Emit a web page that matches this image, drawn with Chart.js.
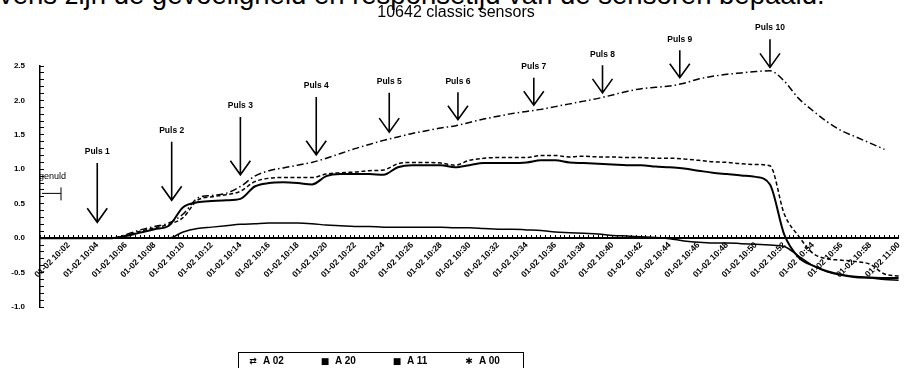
<!DOCTYPE html>
<html>
<head>
<meta charset="utf-8">
<title>10642 classic sensors</title>
<script src="https://cdn.jsdelivr.net/npm/chart.js@4.4.1/dist/chart.umd.min.js"></script>
<style>
  html, body { margin: 0; padding: 0; background: #fff; }
  #wrap { position: relative; width: 912px; height: 375px; overflow: hidden; font-family: "Liberation Sans", Arial, sans-serif; color: #000; }
  #cut { position: absolute; left: -1px; top: -19px; font-size: 27.5px; line-height: 27.5px; white-space: nowrap; }
  #chart { position: absolute; left: 0; top: 0; }
  #legend { position: absolute; left: 238px; top: 352px; width: 284px; height: 15px; border: 1px solid #000; border-bottom: none; font-size: 10px; font-weight: bold; line-height: 15px; white-space: nowrap; }
  #legend span.item { display: inline-block; width: 72px; }
  #legend span.sym { display: inline-block; width: 20px; text-align: center; margin-left: 4px; font-family: "DejaVu Sans", sans-serif; font-size: 9px; }
</style>
</head>
<body>
<div id="wrap">
  <div id="cut">vens zijn de gevoeligheid en responsetijd van de sensoren bepaald.</div>
  <canvas id="chart" width="912" height="375"></canvas>
  <div id="legend"></div>
</div>
<script>
// sample times, minutes after 10:00
var sampleMinutes = [0, 1, 2, 3, 4, 5, 6, 7, 8, 9, 10, 11, 12, 13, 14, 15, 16, 17, 18, 19, 20,
    21, 22, 23, 24, 25, 26, 27, 28, 29, 30, 31, 32, 33, 34, 35, 36, 37, 38, 39, 40,
    41, 42, 43, 44, 45, 46, 47, 48, 49, 50, 51, 52, 53, 54, 55, 56, 57, 58, 59, 60];

var timeLabels = ['01-02 10:02', '01-02 10:04', '01-02 10:06', '01-02 10:08', '01-02 10:10',
    '01-02 10:12', '01-02 10:14', '01-02 10:16', '01-02 10:18', '01-02 10:20',
    '01-02 10:22', '01-02 10:24', '01-02 10:26', '01-02 10:28', '01-02 10:30',
    '01-02 10:32', '01-02 10:34', '01-02 10:36', '01-02 10:38', '01-02 10:40',
    '01-02 10:42', '01-02 10:44', '01-02 10:46', '01-02 10:48', '01-02 10:50',
    '01-02 10:52', '01-02 10:54', '01-02 10:56', '01-02 10:58', '01-02 11:00'];

var seriesNames = ['A 02', 'A 20', 'A 11', 'A 00'];
var legendSymbols = ['\u21C4', '\u25A0', '\u25A0', '\u2731'];

var a02 = [0, 0, 0, 0, 0, 0, 0.05, 0.12, 0.17, 0.22, 0.35, 0.58, 0.62, 0.65, 0.75, 0.90, 0.98, 1.02, 1.06, 1.10, 1.16,
    1.23, 1.30, 1.36, 1.42, 1.47, 1.52, 1.56, 1.60, 1.63, 1.68, 1.73, 1.77, 1.81, 1.84, 1.87, 1.91, 1.95, 1.99, 2.03, 2.08,
    2.13, 2.17, 2.19, 2.21, 2.25, 2.31, 2.35, 2.38, 2.40, 2.42, 2.43, 2.28, 2.03, 1.85, 1.69, 1.56, 1.47, 1.38, 1.29, null];

var a20 = [0, 0, 0, 0, 0, 0, 0.04, 0.10, 0.15, 0.20, 0.30, 0.55, 0.60, 0.63, 0.68, 0.82, 0.87, 0.88, 0.88, 0.88, 0.93,
    0.95, 0.96, 0.98, 0.99, 1.08, 1.10, 1.10, 1.09, 1.06, 1.13, 1.16, 1.17, 1.17, 1.17, 1.20, 1.20, 1.18, 1.19, 1.18, 1.18,
    1.17, 1.17, 1.16, 1.16, 1.15, 1.13, 1.11, 1.10, 1.08, 1.07, 1.05, 0.35, 0.03, -0.22, -0.30, -0.32, -0.34, -0.38, -0.52, -0.55];

var a11 = [0, 0, 0, 0, 0, 0, 0.03, 0.08, 0.13, 0.18, 0.45, 0.52, 0.54, 0.55, 0.57, 0.75, 0.80, 0.81, 0.80, 0.78, 0.90,
    0.93, 0.93, 0.93, 0.92, 1.03, 1.06, 1.06, 1.06, 1.03, 1.06, 1.09, 1.09, 1.09, 1.10, 1.13, 1.13, 1.10, 1.09, 1.08, 1.07,
    1.06, 1.06, 1.04, 1.03, 1.01, 0.98, 0.95, 0.93, 0.91, 0.89, 0.78, 0.05, -0.28, -0.40, -0.48, -0.53, -0.56, -0.57, -0.58, -0.58];

var a00 = [0, 0, 0, 0, 0, 0, 0, 0, 0, 0, 0.09, 0.14, 0.16, 0.18, 0.20, 0.21, 0.22, 0.22, 0.22, 0.21, 0.19,
    0.18, 0.17, 0.17, 0.16, 0.16, 0.16, 0.16, 0.16, 0.15, 0.15, 0.14, 0.13, 0.13, 0.12, 0.11, 0.09, 0.08, 0.07, 0.06, 0.04,
    0.03, 0.02, 0.01, -0.01, -0.04, -0.06, -0.07, -0.07, -0.08, -0.09, -0.10, -0.12, -0.26, -0.40, -0.49, -0.54, -0.57, -0.58, -0.60, -0.61];

// gas pulses (Puls 1..10): time in minutes, arrow tip and arrow top in sensor units
var pulseMinutes = [4.0, 9.2, 14.0, 19.3, 24.4, 29.2, 34.5, 39.3, 44.7, 51.0];
var pulseTips = [0.23, 0.55, 0.92, 1.21, 1.54, 1.72, 1.93, 2.11, 2.33, 2.48];
var pulseTops = [1.09, 1.40, 1.76, 2.05, 2.11, 2.12, 2.33, 2.51, 2.73, 2.89];

function points(values) {
    return sampleMinutes.map(function (m, i) { return { x: m * 60, y: values[i] }; });
}

var pulseArrows = {
    id: 'pulseArrows',
    afterDraw: function (chart) {
        var ctx = chart.ctx, xs = chart.scales.x, ys = chart.scales.y;
        ctx.save();
        ctx.strokeStyle = '#000';
        ctx.fillStyle = '#000';
        ctx.lineWidth = 1.6;
        ctx.font = 'bold 8.5px "Liberation Sans", Arial, sans-serif';
        ctx.textAlign = 'center';
        ctx.textBaseline = 'middle';
        for (var i = 0; i < pulseMinutes.length; i++) {
            var x = xs.getPixelForValue(pulseMinutes[i] * 60);
            var yTip = ys.getPixelForValue(pulseTips[i]);
            var yTop = ys.getPixelForValue(pulseTops[i]);
            ctx.beginPath();
            ctx.moveTo(x, yTop);
            ctx.lineTo(x, yTip);
            ctx.moveTo(x - 10, yTip - 14);
            ctx.lineTo(x, yTip);
            ctx.lineTo(x + 10, yTip - 14);
            ctx.stroke();
            ctx.fillText('Puls ' + (i + 1), x, yTop - 11);
        }
        // "genuld" marker at the left axis
        var yg = ys.getPixelForValue(0.65);
        var x0 = chart.chartArea.left;
        ctx.lineWidth = 1;
        ctx.beginPath();
        ctx.moveTo(x0 + 2, yg);
        ctx.lineTo(x0 + 21, yg);
        ctx.moveTo(x0 + 21, yg - 6);
        ctx.lineTo(x0 + 21, yg + 7);
        ctx.stroke();
        ctx.textAlign = 'left';
        ctx.font = '9px "Liberation Sans", Arial, sans-serif';
        ctx.fillText('genuld', x0 - 1, ys.getPixelForValue(0.89));
        ctx.restore();
    }
};

var ctx = document.getElementById('chart');

var config = {
    type: 'line',
    data: {
        datasets: [
            { label: seriesNames[0], data: points(a02), borderColor: '#000', borderWidth: 1.5, borderDash: [7, 3, 1.5, 3] },
            { label: seriesNames[1], data: points(a20), borderColor: '#000', borderWidth: 1.5, borderDash: [4, 2.5] },
            { label: seriesNames[2], data: points(a11), borderColor: '#000', borderWidth: 2 },
            { label: seriesNames[3], data: points(a00), borderColor: '#000', borderWidth: 1.5 }
        ]
    },
    options: {
        responsive: false,
        animation: false,
        layout: { padding: { top: 0, bottom: 68, left: 0, right: 0 } },
        elements: {
            point: { radius: 0 },
            line: { cubicInterpolationMode: 'monotone', fill: false }
        },
        plugins: {
            legend: { display: false },
            tooltip: { enabled: false },
            title: {
                display: true,
                text: '10642 classic sensors',
                color: '#000',
                font: { size: 16, weight: 'normal' },
                padding: { top: 3, bottom: 43.8 }
            }
        },
        scales: {
            x: {
                type: 'linear',
                position: { y: 0 },
                min: 0,
                max: 3600,
                grid: { drawOnChartArea: false, tickLength: -4, color: '#000', lineWidth: 1 },
                border: { color: '#000', width: 2 },
                ticks: {
                    stepSize: 20,
                    autoSkip: false,
                    minRotation: 45,
                    maxRotation: 45,
                    padding: 6,
                    color: '#000',
                    font: { size: 8.5, weight: 'bold' },
                    callback: function (value) {
                        var sec = Math.round(value);
                        if (sec <= 0 || sec % 120 !== 0) return '';
                        return timeLabels[sec / 120 - 1];
                    }
                }
            },
            y: {
                min: -1,
                max: 2.5,
                afterFit: function (scale) { scale.width = 40; },
                grid: { drawOnChartArea: false, tickLength: -4, color: '#000', lineWidth: 1 },
                border: { color: '#000', width: 1.5 },
                ticks: {
                    stepSize: 0.1,
                    autoSkip: false,
                    padding: 19,
                    color: '#000',
                    font: { size: 8, weight: 'bold' },
                    callback: function (value) {
                        var half = value * 2;
                        if (Math.abs(half - Math.round(half)) > 1e-6) return '';
                        return value.toFixed(1);
                    }
                }
            }
        }
    },
    plugins: [pulseArrows]
};

var sensorChart = new Chart(ctx, config);

// legend box under the plot
var legendHtml = '';
for (var i = 0; i < seriesNames.length; i++) {
    legendHtml += '<span class="item"><span class="sym">' + legendSymbols[i] + '</span>' + seriesNames[i] + '</span>';
}
document.getElementById('legend').innerHTML = legendHtml;
</script>
</body>
</html>
